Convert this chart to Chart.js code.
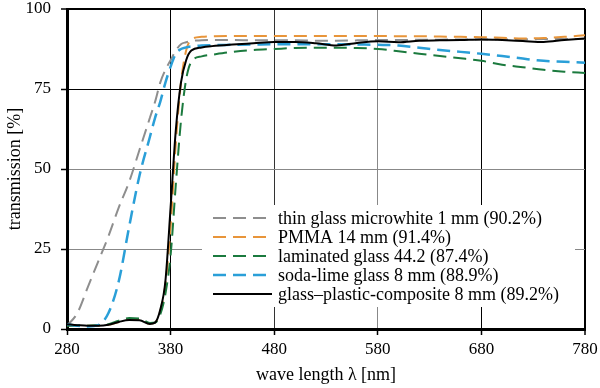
<!DOCTYPE html>
<html><head><meta charset="utf-8">
<script src="https://cdn.jsdelivr.net/npm/chart.js@4.4.0/dist/chart.umd.min.js"></script>
<style>html,body{margin:0;padding:0;background:#fff}#wrap{width:600px;height:388px}</style>
</head><body><div id="wrap"><canvas id="c" width="600" height="388"></canvas></div>
<script>
const wavelengths = [280,290,300,310,320,330,340,350,360,365,370,375,380,385,390,395,400,410,420,440,460,480,500,520,540,560,580,600,620,640,660,680,700,720,740,760,780];
const thinGlass  = [1,5,13,21,29,38,46,56,66,71,77,81,84,87,89,89.6,90,90.2,90.3,90.3,90.2,90.2,90.2,90.1,90.1,90.2,90.3,90.3,90.4,90.4,90.5,90.5,90.5,90.5,90.6,90.6,90.7];
const pmma       = [1.2,1.1,1,1,1.3,2.2,2.9,2.8,1.7,2,5.5,14,32,58,77,87,90.5,91.3,91.5,91.6,91.6,91.6,91.6,91.6,91.6,91.6,91.6,91.5,91.5,91.4,91.3,91.2,91,90.8,90.9,91.3,91.8];
const laminated  = [1,1.1,1,1.2,1.5,2.6,3.4,3.3,1.9,2,4.5,11,23,45,65,78,83.5,85.2,85.7,86.6,87.2,87.5,87.8,87.9,87.9,87.8,87.5,86.8,86,85.3,84.6,83.8,82.6,81.8,81,80.4,80];
const sodaLime   = [1.5,1,0.8,1.2,5,15,32,48,60,66,71,77,82,86,87.5,88,88.3,88.6,88.7,88.8,88.9,89,89,89,89,88.9,88.8,88.6,87.9,87.2,86.6,86,85.3,84.5,83.8,83.5,83.2];
const composite  = [1.5,1.2,1,1,1.3,2.2,2.8,2.7,1.6,2,6,15,38,62,77,84,87,88,88.4,88.9,89.3,89.7,89.7,89.3,88.6,89.4,89.9,89.6,90.1,90.2,90.3,90.5,90.3,90,89.7,90.3,90.8];
const seriesLabels = ['thin glass microwhite 1 mm (90.2%)','PMMA 14 mm (91.4%)','laminated glass 44.2 (87.4%)','soda-lime glass 8 mm (88.9%)','glass\u2013plastic-composite 8 mm (89.2%)'];
const xTicks = [280,380,480,580,680,780];
const yTicks = [0,25,50,75,100];

const pts = arr => arr.map((v,i)=>({x:wavelengths[i], y:v}));
const FONT = '"Liberation Serif", "Times New Roman", serif';
const dash = [13,7];

function ds(label, data, color, width, dashed, order){
  return {label, data: pts(data), borderColor: color, borderWidth: width, borderDash: dashed ? dash : [],
    pointRadius: 0, fill: false, cubicInterpolationMode: 'monotone', order};
}

const legendPlugin = {
  id: 'boxLegend',
  beforeDatasetsDraw(chart){
    const {ctx, chartArea} = chart;
    const bx = chartArea.left + 135, by = chartArea.top + 196;
    ctx.save();
    ctx.fillStyle = '#fff';
    ctx.fillRect(bx, by, 373, 102);
    chart.data.datasets.forEach((d, i) => {
      const y = by + 13 + i * 19;
      ctx.strokeStyle = d.borderColor; ctx.lineWidth = d.borderWidth;
      ctx.setLineDash(d.borderDash || []);
      ctx.beginPath(); ctx.moveTo(bx + 11, y); ctx.lineTo(bx + 70, y); ctx.stroke();
      ctx.setLineDash([]);
      ctx.fillStyle = '#000'; ctx.font = '18px ' + FONT; ctx.textBaseline = 'middle';
      ctx.fillText(d.label, bx + 76, y + 1);
    });
    ctx.restore();
  }
};

const xGridColor = {380:'#000',480:'#333',580:'#888',680:'#000',780:'#000'};
const yGridColor = {25:'#888',50:'#888',75:'#000',100:'#000'};

new Chart(document.getElementById('c'), {
  type: 'line',
  data: { datasets: [
    ds(seriesLabels[0], thinGlass, '#8e8e8e', 2, true, 4),
    ds(seriesLabels[1], pmma, '#e8953a', 2, true, 3),
    ds(seriesLabels[2], laminated, '#1b7a3e', 2, true, 2),
    ds(seriesLabels[3], sodaLime, '#2a9fd8', 2.5, true, 1),
    ds(seriesLabels[4], composite, '#000000', 2, false, 0)
  ]},
  options: {
    responsive: false, animation: false,
    layout: { padding: { top: 9, right: 15, left: 0, bottom: 0 } },
    plugins: { legend: { display: false }, tooltip: { enabled: false } },
    scales: {
      x: {
        type: 'linear', min: 280, max: 780,
        afterBuildTicks: s => { s.ticks = xTicks.map(v => ({value: v})); },
        afterFit: s => { s.height = 59; s.paddingLeft = 0; s.paddingRight = 0; },
        ticks: { color: '#000', font: { family: FONT, size: 17 }, padding: 4, maxRotation: 0 },
        grid: {
          color: c => xGridColor[c.tick && c.tick.value] || '#000',
          lineWidth: c => (c.tick && c.tick.value === 780) ? 2 : 1,
          tickLength: 6, tickColor: '#000', tickWidth: 1.5
        },
        border: { color: '#000', width: 3 },
        title: { display: true, text: 'wave length \u03bb [nm]', color: '#000', font: { family: FONT, size: 18 }, padding: { top: 0, bottom: 2 } }
      },
      y: {
        min: 0, max: 100,
        afterBuildTicks: s => { s.ticks = yTicks.map(v => ({value: v})); },
        afterFit: s => { s.width = 67; s.paddingTop = 0; s.paddingBottom = 0; },
        ticks: { color: '#000', font: { family: FONT, size: 17 }, padding: 10 },
        grid: {
          color: c => yGridColor[c.tick && c.tick.value] || '#000',
          lineWidth: c => (c.tick && c.tick.value === 100) ? 2 : 1,
          tickLength: 6, tickColor: '#000', tickWidth: 1.5
        },
        border: { color: '#000', width: 3 },
        title: { display: true, text: 'transmission [%]', color: '#000', font: { family: FONT, size: 18 }, padding: { top: 4, bottom: 0 } }
      }
    }
  },
  plugins: [legendPlugin]
});
</script></body></html>
